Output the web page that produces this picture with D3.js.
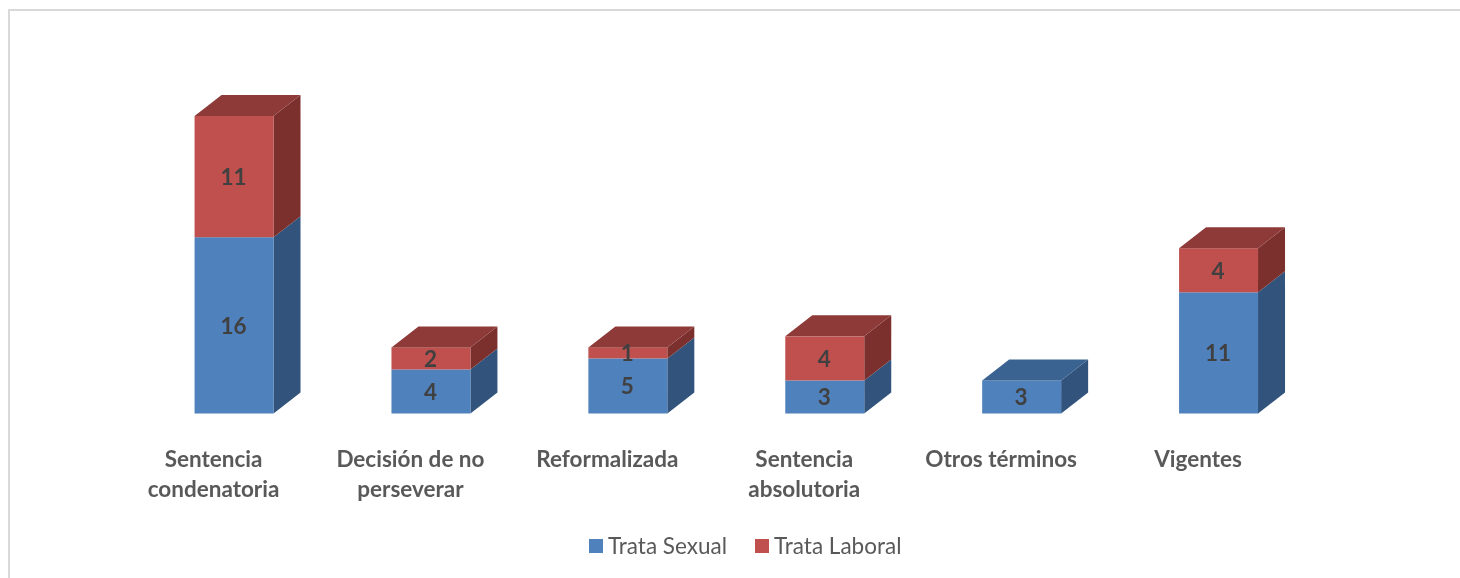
<!DOCTYPE html>
<html><head><meta charset="utf-8">
<script src="https://cdn.jsdelivr.net/npm/d3@7/dist/d3.min.js"></script>
<style>html,body{margin:0;padding:0;background:#fff;overflow:hidden}svg{display:block;filter:blur(0.35px)}</style>
</head><body><svg id="c" width="1460" height="578"></svg>
<script>
const categories = [["Sentencia","condenatoria"],["Decisión de no","perseverar"],["Reformalizada"],["Sentencia","absolutoria"],["Otros términos"],["Vigentes"]];
const seriesNames = ["Trata Sexual","Trata Laboral"];
const trataSexual = [16,4,5,3,3,11];
const trataLaboral = [11,2,1,4,0,4];
const front = ["#4f81bd","#c0504d"], side = ["#32547c","#7b302e"], top_ = ["#3a6391","#8e3a38"];
const font = "Lato, 'Open Sans', sans-serif";
const svg = d3.select("#c");
svg.append("path").attr("d","M9,578V10H1460").attr("fill","none").attr("stroke","#d9d9d9").attr("stroke-width",2);
const W=196.9, dx=27, dy=21;
const x = d3.scaleBand().domain(d3.range(6)).range([135.6,135.6+6*W]).paddingInner(118/197).paddingOuter(59/197);
const y = d3.scaleLinear().domain([0,27]).range([413.5,116]);
const data = categories.map((c,i)=>({i,s:[trataSexual[i],trataLaboral[i]]}));
data.forEach(d=>{
  const x0=x(d.i), x1=x0+x.bandwidth();
  let base=0;
  const tot=d.s[0]+d.s[1];
  d.s.forEach((v,k)=>{
    if(!v) return;
    const yb=y(base), yt=y(base+v);
    svg.append("path").attr("fill",side[k]).attr("d",`M${x1},${yb}L${x1+dx},${yb-dy}V${yt-dy}L${x1},${yt}Z`);
    svg.append("rect").attr("x",x0).attr("y",yt).attr("width",x1-x0).attr("height",yb-yt).attr("fill",front[k]);
    if(base+v===tot) svg.append("path").attr("fill",top_[k]).attr("d",`M${x0},${yt}L${x0+dx},${yt-dy}H${x1+dx}L${x1},${yt}Z`);
    svg.append("text").attr("x",(x0+x1)/2-0.5).attr("y",(yb+yt)/2+0.5).attr("dy","0.35em").attr("text-anchor","middle")
      .attr("font-family",font).attr("font-weight",700).attr("font-size",22.5).attr("fill","#404040").text(v);
    base+=v;
  });
  const cx=(x0+x1)/2-20.5;
  categories[d.i].forEach((t,l)=>svg.append("text").attr("x",cx).attr("y",466.5+l*30).attr("text-anchor","middle")
    .attr("font-family",font).attr("font-weight",700).attr("font-size",22.5).attr("fill","#595959").text(t));
});
const lx=[589,755];
seriesNames.forEach((n,k)=>{
  svg.append("rect").attr("x",lx[k]).attr("y",539).attr("width",14).attr("height",14).attr("fill",front[k]);
  svg.append("text").attr("x",lx[k]+19).attr("y",553.5).attr("font-family",font).attr("font-size",22.5).attr("fill","#595959").text(n);
});
</script></body></html>
